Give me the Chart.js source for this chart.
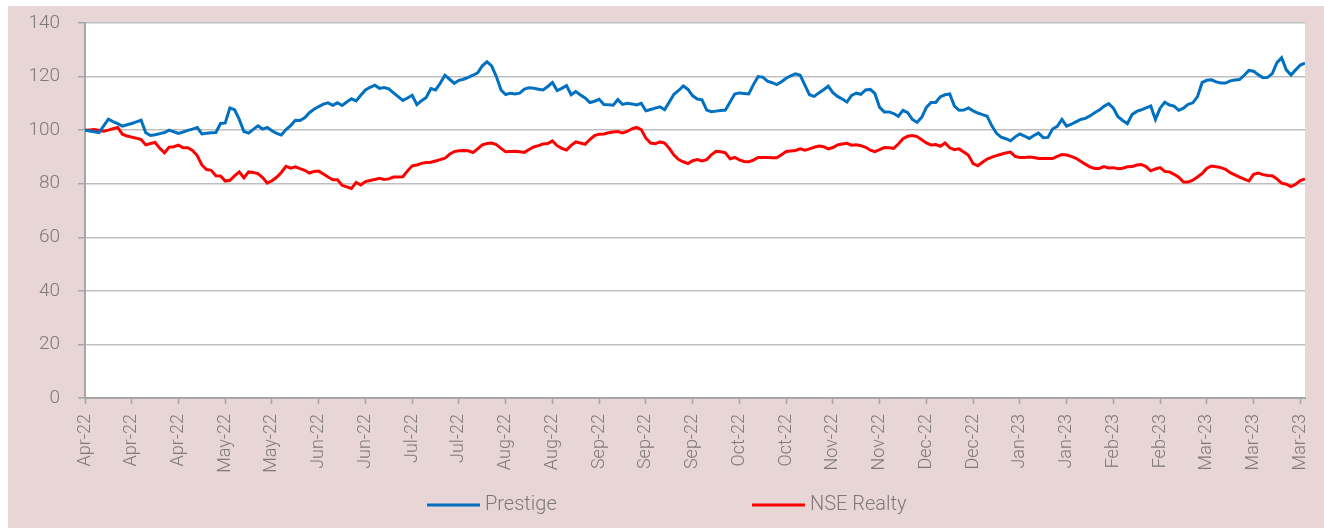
<!DOCTYPE html>
<html>
<head>
<meta charset="utf-8">
<script src="https://cdn.jsdelivr.net/npm/chart.js@4.4.1/dist/chart.umd.min.js"></script>
<style>
  html, body { margin: 0; padding: 0; background: #ffffff; }
  canvas { display: block; }
</style>
</head>
<body>
<canvas id="chart" width="1324" height="528"></canvas>
<script>
// month label shown every 10th trading day
const tickLabels = [
  'Apr-22', 'Apr-22', 'Apr-22', 'May-22', 'May-22', 'Jun-22', 'Jun-22', 'Jul-22', 'Jul-22',
  'Aug-22', 'Aug-22', 'Sep-22', 'Sep-22', 'Sep-22', 'Oct-22', 'Oct-22', 'Nov-22', 'Nov-22',
  'Dec-22', 'Dec-22', 'Jan-23', 'Jan-23', 'Feb-23', 'Feb-23', 'Mar-23', 'Mar-23', 'Mar-23'
];

const seriesNames = ['Prestige', 'NSE Realty'];

// rebased to 100
const prestige = [
  100, 99.7, 99.4, 99.1, 101.6, 104.1, 103.2, 102.4, 101.5, 102,
  102.5, 103.1, 103.7, 99, 98, 98.3, 98.7, 99.1, 100, 99.4,
  98.8, 99.3, 99.9, 100.4, 101, 98.6, 98.8, 99, 99.1, 102.5,
  102.7, 108.3, 107.6, 104, 99.5, 98.9, 100.3, 101.6, 100.4, 101,
  99.8, 98.8, 98.2, 100.2, 101.7, 103.7, 103.6, 104.6, 106.5, 107.8,
  108.8, 109.7, 110.2, 109.3, 110.2, 109.2, 110.5, 111.7, 110.9, 113,
  115, 116, 116.8, 115.6, 115.9, 115.4, 113.9, 112.5, 111.1, 112,
  113, 109.5, 111, 112.2, 115.5, 115, 117.5, 120.5, 119, 117.5,
  118.6, 119, 119.7, 120.5, 121.4, 124, 125.5, 124, 120, 115,
  113.3, 113.8, 113.5, 113.8, 115.3, 115.8, 115.6, 115.3, 115, 116.3,
  117.8, 114.8, 115.6, 116.6, 113.2, 114.4, 113.1, 112, 110.3, 110.8,
  111.5, 109.6, 109.5, 109.3, 111.4, 109.6, 110, 109.8, 109.4, 110,
  107.2, 107.7, 108.2, 108.7, 107.6, 110.5, 113.4, 114.8, 116.5, 115.2,
  112.8, 111.6, 111.3, 107.5, 106.9, 107.1, 107.3, 107.5, 110.5, 113.5,
  113.9, 113.7, 113.5, 117, 120, 119.8, 118.3, 117.7, 117, 118.1,
  119.4, 120.3, 121, 120.5, 116.8, 113.2, 112.6, 113.9, 115.1, 116.4,
  114, 112.6, 111.6, 110.5, 113, 113.8, 113.4, 115, 115.2, 113.6,
  108.5, 106.8, 106.8, 106.2, 105.2, 107.4, 106.5, 104, 102.9, 104.8,
  108.5, 110.3, 110.3, 112.5, 113.2, 113.5, 109, 107.4, 107.5, 108.3,
  107.2, 106.4, 105.8, 105.2, 101.6, 98.8, 97.4, 96.8, 96, 97.5,
  98.6, 97.8, 96.9, 98, 98.9, 97.2, 97.3, 100.4, 101.4, 104,
  101.5, 102.2, 103.1, 104, 104.4, 105.3, 106.5, 107.5, 108.9, 109.9,
  108.2, 105, 103.6, 102.4, 105.8, 107, 107.6, 108.3, 109, 104,
  108.2, 110.4, 109.4, 109, 107.4, 108.2, 109.6, 110.2, 112.5, 117.8,
  118.6, 118.8, 118, 117.6, 117.6, 118.4, 118.7, 118.9, 120.5, 122.3,
  122, 120.7, 119.6, 119.7, 121.1, 125.2, 127, 122.5, 120.6, 122.5,
  124.3, 125
];

const nseRealty = [
  100, 100.1, 100.2, 99.9, 99.6, 100, 100.5, 101, 98.5, 97.8,
  97.4, 97, 96.5, 94.5, 95, 95.4, 93.2, 91.5, 93.6, 93.8,
  94.4, 93.4, 93.4, 92.4, 90.5, 87, 85.3, 85, 83, 82.9,
  81, 81.3, 82.9, 84.4, 82.2, 84.4, 84.2, 83.8, 82.3, 80.2,
  81.1, 82.4, 84.2, 86.5, 85.8, 86.3, 85.6, 85, 84, 84.6,
  84.7, 83.6, 82.5, 81.5, 81.5, 79.4, 78.8, 78.2, 80.5, 79.5,
  80.8, 81.2, 81.6, 82, 81.6, 81.8, 82.5, 82.5, 82.6, 84.8,
  86.7, 87, 87.6, 87.9, 88, 88.5, 89, 89.5, 91, 92,
  92.3, 92.4, 92.3, 91.6, 93, 94.5, 95, 95.2, 94.6, 93.2,
  91.9, 92, 92.1, 91.9, 91.7, 92.8, 93.7, 94.2, 94.8, 95,
  96, 94.2, 93.2, 92.6, 94.3, 95.6, 95.2, 94.7, 96.5, 98,
  98.5, 98.6, 99, 99.3, 99.5, 99, 99.5, 100.5, 101, 100.2,
  97, 95.2, 94.9, 95.6, 95.2, 93.2, 90.7, 89, 88.2, 87.5,
  88.6, 89, 88.5, 89, 90.8, 92.1, 91.9, 91.5, 89.3, 89.8,
  88.9, 88.3, 88.2, 88.8, 89.8, 89.8, 89.8, 89.7, 89.7, 90.8,
  92, 92.2, 92.4, 93, 92.5, 93, 93.6, 94.1, 93.8, 93,
  93.5, 94.5, 94.8, 95.1, 94.4, 94.5, 94.2, 93.6, 92.5, 92,
  92.7, 93.5, 93.4, 93.2, 94.8, 96.8, 97.7, 98, 97.6, 96.4,
  95.2, 94.5, 94.6, 94, 95.2, 93.4, 92.7, 93, 91.8, 90.6,
  87.5, 86.7, 88, 89.2, 89.9, 90.5, 91, 91.5, 91.8, 90.2,
  89.8, 89.8, 90, 89.8, 89.4, 89.4, 89.4, 89.4, 90.2, 90.9,
  90.7, 90.2, 89.5, 88.4, 87.3, 86.3, 85.7, 85.7, 86.4, 85.9,
  86, 85.6, 85.8, 86.3, 86.4, 87, 87.2, 86.4, 84.8, 85.5,
  86, 84.6, 84.4, 83.5, 82.4, 80.6, 80.6, 81.3, 82.5, 83.8,
  85.8, 86.6, 86.3, 86, 85.4, 84.1, 83.3, 82.5, 81.7, 81,
  83.5, 84, 83.4, 83.1, 83, 81.8, 80.2, 79.8, 78.9, 79.8,
  81.2, 81.8
];

const TICK_EVERY = 10;
const textColor = '#7f7979';
const fontFamily = 'Roboto, "Liberation Sans", sans-serif';

function toPoints(values) {
  return values.map((v, i) => ({ x: i, y: v }));
}

// pink panel + white plot area
const backgroundPlugin = {
  id: 'panelBg',
  beforeDraw(chart) {
    const { ctx, chartArea } = chart;
    ctx.save();
    ctx.fillStyle = '#e8d5d6';
    ctx.fillRect(8, 6, chart.width - 8, chart.height - 6);
    ctx.fillStyle = '#ffffff';
    ctx.fillRect(chartArea.left, chartArea.top, chartArea.right - chartArea.left, chartArea.bottom - chartArea.top);
    ctx.restore();
  }
};

// legend along the bottom, spaced like the original
const bottomLegend = {
  id: 'bottomLegend',
  afterDraw(chart) {
    const { ctx } = chart;
    const items = [
      { x: 427, ds: chart.data.datasets[0] },
      { x: 752, ds: chart.data.datasets[1] }
    ];
    const y = 505;
    ctx.save();
    ctx.font = '300 20px ' + fontFamily;
    ctx.textBaseline = 'middle';
    ctx.textAlign = 'left';
    items.forEach(item => {
      ctx.strokeStyle = item.ds.borderColor;
      ctx.lineWidth = 3;
      ctx.beginPath();
      ctx.moveTo(item.x, y);
      ctx.lineTo(item.x + 53, y);
      ctx.stroke();
      ctx.fillStyle = textColor;
      ctx.fillText(item.ds.label, item.x + 58, y);
    });
    ctx.restore();
  }
};

const ctx = document.getElementById('chart').getContext('2d');
new Chart(ctx, {
  type: 'line',
  data: {
    datasets: [
      {
        label: seriesNames[0],
        data: toPoints(prestige),
        borderColor: '#0070c0',
        borderWidth: 3,
        pointRadius: 0,
        tension: 0
      },
      {
        label: seriesNames[1],
        data: toPoints(nseRealty),
        borderColor: '#ff0000',
        borderWidth: 3,
        pointRadius: 0,
        tension: 0
      }
    ]
  },
  options: {
    responsive: false,
    animation: false,
    layout: { padding: { left: 0, top: 23, right: 19, bottom: 0 } },
    plugins: {
      legend: { display: false },
      tooltip: { enabled: false }
    },
    scales: {
      x: {
        type: 'linear',
        min: 0,
        max: prestige.length - 1,
        afterFit: scale => {
          scale.height = 130;
          scale.paddingLeft = 0;
          scale.paddingRight = 0;
        },
        grid: {
          drawOnChartArea: false,
          drawTicks: true,
          tickLength: 6,
          tickColor: '#a6a6a6',
          tickWidth: 1.5
        },
        border: { color: '#a6a6a6', width: 2 },
        ticks: {
          stepSize: TICK_EVERY,
          maxTicksLimit: 40,
          includeBounds: false,
          autoSkip: false,
          maxRotation: 90,
          minRotation: 90,
          padding: 10,
          color: textColor,
          font: { family: fontFamily, size: 18, weight: '300' },
          callback: value => tickLabels[Math.round(value / TICK_EVERY)]
        }
      },
      y: {
        min: 0,
        max: 140,
        afterFit: scale => {
          scale.width = 85;
          scale.paddingTop = 0;
          scale.paddingBottom = 0;
        },
        grid: {
          color: '#bfbfbf',
          lineWidth: 1.5,
          tickLength: 7,
          tickColor: '#a6a6a6'
        },
        border: { color: '#a6a6a6', width: 2 },
        ticks: {
          stepSize: 20,
          padding: 18,
          color: textColor,
          font: { family: fontFamily, size: 19, weight: '300' }
        }
      }
    }
  },
  plugins: [backgroundPlugin, bottomLegend]
});
</script>
</body>
</html>
